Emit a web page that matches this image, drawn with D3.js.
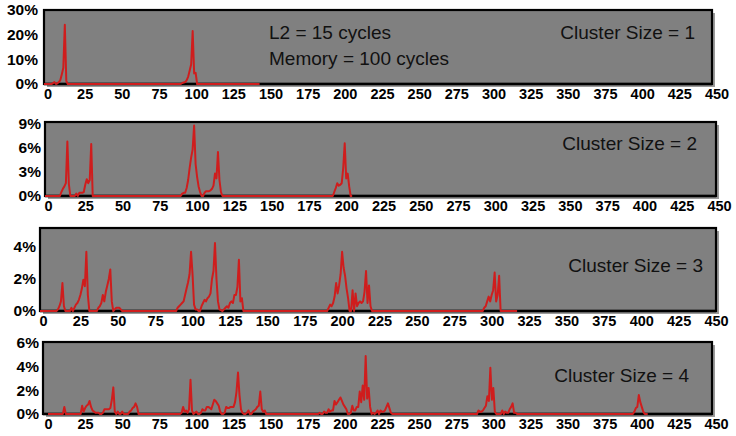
<!DOCTYPE html>
<html>
<head>
<meta charset="utf-8">
<script src="https://cdn.jsdelivr.net/npm/d3@7/dist/d3.min.js"></script>
<style>
  html, body { margin: 0; padding: 0; background: #fff; }
  svg { display: block; font-family: "Liberation Sans", Arial, Helvetica, sans-serif; }
  .tick text { font-weight: bold; fill: #000; }
</style>
</head>
<body>
<svg id="chart" width="736" height="436"></svg>
<script>
// Distribution of miss latencies (cycles) per cluster size, as [cycle, percent] points.
const cluster1 = [
  [0,0],[5,0],[6,0.3],[7,0.8],[8,0],[9,0.3],[10,0.8],[11,1.6],[12,4],[13,6.6],[14,24],[15,1.2],[16,0],
  [92,0],[93,0.4],[94,0.6],[95,0.8],[96,1.6],[97,3],[98,5.5],[99,8],[100,21.5],[101,4.3],[102,4.5],[103,0],
  [145,0]
];
const cluster2 = [
  [0,0],[10,0],[11,0.5],[12,0.9],[13,1.2],[14,1.6],[15,6.8],[16,1.5],[17,0],
  [20,0],[21,0.3],[22,0],[23,0.4],[24,0.4],[25,0.4],[26,0.5],[27,1.4],[28,2.1],[29,1.6],[30,2.0],[31,6.5],[32,0],
  [91,0],[92,0.3],[93,0.4],[94,0.4],[95,1],[96,2],[97,3.5],[98,4.8],[99,5.8],[100,8.8],[101,4],[102,2.4],[103,1.2],[104,0.5],[105,0],
  [106,0],[107,0.4],[108,0.6],[109,0.6],[110,0.6],[111,0.7],[112,0.9],[113,1.3],[114,2.8],[115,2.2],[116,5.5],[117,2],[118,0.5],[119,0],
  [193,0],[194,0.5],[195,1],[196,1.6],[197,1.3],[198,1.4],[199,1.6],[200,3.5],[201,6.6],[202,2.2],[203,2.8],[204,1.2],[205,0],
  [206,0]
];
const cluster3 = [
  [0,0],[11,0],[12,0.1],[13,0.3],[14,0.6],[15,1.75],[16,0.3],[17,0],
  [20,0],[21,0.2],[22,0],[23,0.2],[24,0.4],[25,0.5],[26,0.7],[27,1],[28,1.4],[29,1.96],[30,1.55],[31,3.7],[32,1],[33,0],
  [38,0],[39,0.2],[40,0.3],[41,0.5],[42,1],[43,0.6],[44,1.2],[45,1.6],[46,2],[47,2.6],[48,0.6],[49,0],
  [50,0.1],[51,0.2],[52,0.2],[53,0.2],[54,0.1],[55,0],
  [91,0],[92,0.2],[93,0.3],[94,0.4],[95,0.5],[96,0.6],[97,1],[98,1.4],[99,1.8],[100,2.3],[101,3.7],[102,2.3],[103,0.4],[104,0.1],[105,0.1],[106,0],
  [107,0],[108,0.3],[109,0.5],[110,0.7],[111,0.6],[112,0.8],[113,0.9],[114,1.1],[115,2],[116,2.5],[117,4.25],[118,2],[119,0.6],[120,0.1],[121,0.05],[122,0],
  [123,0.1],[124,0.2],[125,0.3],[126,0.2],[127,0.5],[128,0.6],[129,0.5],[130,1],[131,1],[132,1.5],[133,3.2],[134,0.6],[135,0.8],[136,0],
  [192,0],[193,0.2],[194,0.4],[195,0.3],[196,0.5],[197,0.9],[198,1.75],[199,1.1],[200,1.6],[201,2.3],[202,3.7],[203,2.7],[204,2.2],[205,1.4],[206,0.8],[207,0],
  [208,0],[209,1.3],[210,0],[211,1.1],[212,0.3],[213,0.5],[214,0.6],[215,0.5],[216,0.6],[217,1.2],[218,2.5],[219,0.5],[220,1.6],[221,0.3],[222,0],
  [296,0],[297,0.2],[298,0.3],[299,0.6],[300,0.9],[301,0.6],[302,1],[303,1.3],[304,2.4],[305,0.6],[306,1],[307,2.2],[308,0],
  [319,0]
];
const cluster4 = [
  [0,0],[10,0],[11,0.6],[12,0],
  [22,0],[23,0.7],[24,0.2],[25,0.5],[26,0.7],[27,0.8],[28,1.1],[29,0.6],[30,0.3],[31,0.2],[32,0.1],[33,0.1],[34,0.1],[35,0],
  [36,0],[37,0.1],[38,0.4],[39,0.4],[40,0.4],[41,0.4],[42,0.5],[43,1.2],[44,2.25],[45,0.2],[46,0],[47,0.2],[48,0],[49,0],[50,0.2],[51,0],
  [54,0],[55,0.2],[56,0.3],[57,0.5],[58,0.6],[59,0.9],[60,0.6],[61,0],
  [89,0],[90,0.1],[91,0.6],[92,0.2],[93,0.3],[94,0.1],[95,0.4],[96,2.9],[97,0.3],[98,0],[99,0.1],[100,0.2],[101,0],[102,0],
  [103,0.1],[104,0.4],[105,0.3],[106,0.3],[107,0.6],[108,0.6],[109,0.5],[110,0.4],[111,0.8],[112,1.2],[113,1.1],[114,0.9],[115,0.7],[116,0.2],[117,0],
  [118,0],[119,0.1],[120,0.6],[121,0.5],[122,0.5],[123,0.6],[124,0.6],[125,0.6],[126,1],[127,1.9],[128,3.5],[129,1.6],[130,0.4],[131,0.1],[132,0],
  [133,0],[134,0.1],[135,0.3],[136,0],[137,0],[138,0.2],[139,0.3],[140,0.4],[141,0.6],[142,0.7],[143,1.9],[144,0.4],[145,0.2],[146,0.3],[147,0],
  [182,0],[183,0.1],[184,0],[185,0],[186,0.2],[187,0.1],[188,0.1],[189,0.4],[190,0.2],[191,0.3],[192,0.3],[193,1.1],[194,0.8],[195,1],[196,1.2],[197,1.4],
  [198,1.1],[199,0.8],[200,0.6],[201,0.4],[202,0],[203,0],[204,0.1],[205,0.7],[206,0.3],[207,0.3],[208,0.6],[209,0.6],[210,1.9],[211,1.0],[212,2.4],
  [213,1.2],[214,4.9],[215,1.3],[216,2.2],[217,0.6],[218,0],[219,0.1],[220,0],[221,0.1],[222,0.3],[223,0],[224,0.3],[225,0.2],[226,0.2],[227,0.3],
  [228,0.6],[229,0.9],[230,0.5],[231,0.1],[232,0],
  [289,0],[290,0.3],[291,0.2],[292,0.2],[293,0.3],[294,0.5],[295,0.7],[296,1.5],[297,1.1],[298,3.9],[299,1.2],[300,2.2],[301,0.2],[302,0],
  [305,0],[306,0.3],[307,0],[308,0.2],[309,0.1],[310,0.1],[311,0.4],[312,0.6],[313,0.9],[314,0.1],[315,0.1],[316,0],
  [394,0],[395,0.2],[396,0.5],[397,0.6],[398,1.6],[399,1.0],[400,0.6],[401,0.2],[402,0],
  [404,0]
];

// Axis ticks
const xTicks = [0,25,50,75,100,125,150,175,200,225,250,275,300,325,350,375,400,425,450];
const yTicks1 = [0,10,20,30];
const yTicks2 = [0,3,6,9];
const yTicks3 = [0,2,4];
const yTicks4 = [0,2,4,6];

// Panel titles and notes
const clusterLabels = ["Cluster Size = 1","Cluster Size = 2","Cluster Size = 3","Cluster Size = 4"];
const noteLines = ["L2 = 15 cycles","Memory = 100 cycles"];

// Layout of the four stacked panels
const panels = [
  { data: cluster1, yTicks: yTicks1, left: 44, right: 712, top: 10,  bottom: 84,  yTopPx: 10,  x0: 44, x450: 713, labelDx: 3.5, yPad: 6, titleRight: 695, titleBase: 39 },
  { data: cluster2, yTicks: yTicks2, left: 45, right: 716, top: 122, bottom: 196, yTopPx: 124, x0: 45, x450: 716, labelDx: 3,   yPad: 4, titleRight: 697, titleBase: 150 },
  { data: cluster3, yTicks: yTicks3, left: 40, right: 716, top: 228, bottom: 311, yTopPx: 247, x0: 40, x450: 713, labelDx: 3,   yPad: 4, titleRight: 703, titleBase: 272 },
  { data: cluster4, yTicks: yTicks4, left: 43, right: 712, top: 342, bottom: 414, yTopPx: 343, x0: 48, x450: 716, labelDx: 0,   yPad: 4, titleRight: 689, titleBase: 382 }
];

const svg = d3.select("#chart");

panels.forEach((p, i) => {
  const g = svg.append("g");
  const yMaxTick = p.yTicks[p.yTicks.length - 1];
  const x = d3.scaleLinear().domain([0, 450]).range([p.x0, p.x450]);
  const y = d3.scaleLinear().domain([0, yMaxTick]).range([p.bottom, p.yTopPx]);

  // drop shadow of the plot area
  g.append("rect")
    .attr("x", p.left + 3).attr("y", p.top + 3)
    .attr("width", p.right - p.left).attr("height", p.bottom - p.top)
    .attr("fill", "#9a9a9a");

  // plot area
  g.append("rect")
    .attr("x", p.left).attr("y", p.top)
    .attr("width", p.right - p.left).attr("height", p.bottom - p.top)
    .attr("fill", "#808080")
    .attr("stroke", "#000").attr("stroke-width", 2.2);

  // baseline
  g.append("line")
    .attr("x1", p.left).attr("x2", p.right)
    .attr("y1", p.bottom).attr("y2", p.bottom)
    .attr("stroke", "#000").attr("stroke-width", 2.4);

  // distribution line
  const line = d3.line().x(d => x(d[0])).y(d => y(d[1]));
  g.append("path")
    .datum(p.data)
    .attr("d", line)
    .attr("fill", "none")
    .attr("stroke", "#cf1d1d")
    .attr("stroke-width", 2)
    .attr("stroke-linejoin", "round");

  // x axis labels
  const xAxis = d3.axisBottom(x).tickValues(xTicks).tickSize(0).tickPadding(0).tickFormat(d3.format("d"));
  const gx = g.append("g")
    .attr("transform", `translate(${p.labelDx},${p.bottom + 5})`)
    .call(xAxis);
  gx.select(".domain").remove();
  gx.selectAll(".tick text")
    .attr("font-size", 14.5)
    .attr("font-family", "\"Liberation Sans\", Arial, sans-serif");

  // y axis labels
  const yAxis = d3.axisLeft(y).tickValues(p.yTicks).tickSize(0).tickPadding(p.yPad).tickFormat(d => d + "%");
  const gy = g.append("g")
    .attr("transform", `translate(${p.left},0)`)
    .call(yAxis);
  gy.select(".domain").remove();
  gy.selectAll(".tick text")
    .attr("font-size", 15.5)
    .attr("font-family", "\"Liberation Sans\", Arial, sans-serif");

  // panel title
  g.append("text")
    .attr("x", p.titleRight).attr("y", p.titleBase)
    .attr("text-anchor", "end")
    .attr("font-size", 19)
    .attr("fill", "#111")
    .text(clusterLabels[i]);
});

// latency note in the first panel
svg.append("g").selectAll("text")
  .data(noteLines)
  .join("text")
  .attr("x", 269)
  .attr("y", (d, i) => 39 + i * 25.5)
  .attr("font-size", 19)
  .attr("fill", "#111")
  .text(d => d);
</script>
</body>
</html>
